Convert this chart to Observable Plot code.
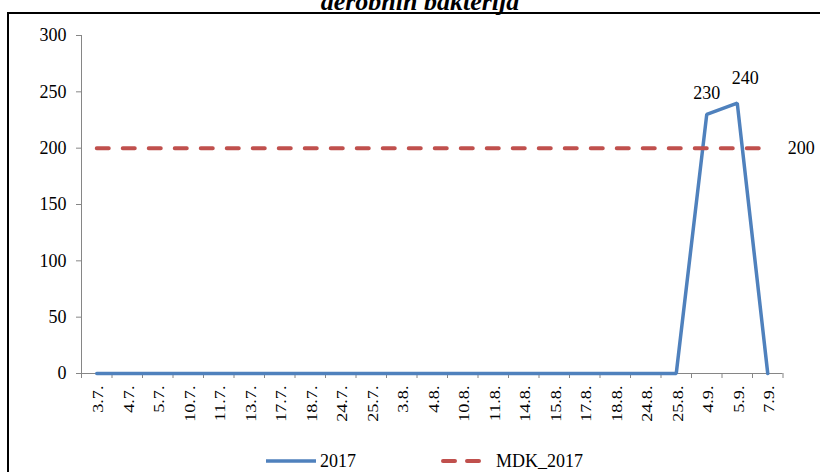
<!DOCTYPE html>
<html>
<head>
<meta charset="utf-8">
<script src="https://cdn.jsdelivr.net/npm/d3@7"></script>
<script src="https://cdn.jsdelivr.net/npm/@observablehq/plot@0.6"></script>
<style>
  html, body { margin: 0; padding: 0; background: #fff; overflow: hidden; }
  #wrap { position: relative; width: 820px; height: 472px; overflow: hidden; font-family: "Liberation Serif", serif; }
  #title { position: absolute; left: 0; width: 840px; top: -13px; line-height: 24px; text-align: center;
           font: bold italic 26px "Liberation Serif", serif; color: #000; white-space: nowrap; }
  #frame { position: absolute; left: 7px; top: 12px; width: 840px; height: 500px; border: 2px solid #000; pointer-events: none; }
  #chart { position: absolute; left: 0; top: 0; }
  .leg { position: absolute; top: 450px; height: 22px; display: flex; align-items: center; font: 18px "Liberation Serif", serif; color: #000; }
</style>
</head>
<body>
<div id="wrap">
  <div id="chart"></div>
  <div id="title">aerobnih bakterija</div>
  <div class="leg" style="left:265px">
    <svg width="52" height="22"><line x1="1" y1="11" x2="51" y2="11" stroke="#4F81BD" stroke-width="3.5"/></svg>
    <span style="margin-left:3px">2017</span>
  </div>
  <div class="leg" style="left:441px">
    <svg width="42" height="22"><line x1="2" y1="11" x2="40" y2="11" stroke="#C0504D" stroke-width="4" stroke-dasharray="12,12" stroke-linecap="round"/></svg>
    <span style="margin-left:13px">MDK_2017</span>
  </div>
  <div id="frame"></div>
</div>
<script>
const categories = ["3.7.","4.7.","5.7.","10.7.","11.7.","13.7.","17.7.","18.7.","24.7.","25.7.",
  "3.8.","4.8.","10.8.","11.8.","14.8.","15.8.","17.8.","18.8.","24.8.","25.8.","4.9.","5.9.","7.9."];
const values2017 = [0,0,0,0,0,0,0,0,0,0,0,0,0,0,0,0,0,0,0,0,230,240,0];
const mdk2017 = [200,200,200,200,200,200,200,200,200,200,200,200,200,200,200,200,200,200,200,200,200,200,200];
const yTicks = [0,50,100,150,200,250,300];

const boundaries = categories.map((c, i) => i - 0.5).concat([categories.length - 0.5]);
const rows = categories.map((c, i) => ({i, cat: c, v: values2017[i], mdk: mdk2017[i]}));
const axisGray = "#868686";

const chart = Plot.plot({
  width: 820, height: 472,
  marginLeft: 81, marginRight: 37.5, marginTop: 35, marginBottom: 99,
  x: {type: "linear", domain: [-0.5, categories.length - 0.5]},
  y: {domain: [0, 300]},
  style: {background: "transparent", fontFamily: "Liberation Serif, serif", color: "#000"},
  marks: [
    Plot.ruleY([0], {x1: -0.5, x2: categories.length - 0.5, stroke: axisGray}),
    Plot.ruleX([-0.5], {y1: 0, y2: 300, stroke: axisGray}),
    Plot.axisY({ticks: yTicks, tickSize: 5, tickPadding: 10, fontSize: 18, stroke: axisGray, fill: "#000", label: null}),
    Plot.axisX({ticks: boundaries, tickSize: 5, tickFormat: () => "", stroke: axisGray, label: null}),
    // category labels, rotated, hanging below the x axis
    Plot.text(rows, {x: "i", y: () => 0, text: "cat", rotate: -90, textAnchor: "end", lineAnchor: "middle",
                     dx: 2, dy: 12, fontSize: 14, fill: "#000", ariaLabel: "category label"}),
    Plot.line(rows, {x: "i", y: "v", stroke: "#4F81BD", strokeWidth: 3.5, strokeLinejoin: "miter"}),
    Plot.line(rows, {x: "i", y: "mdk", stroke: "#C0504D", strokeWidth: 4, strokeDasharray: "12,14", strokeLinecap: "round"}),
    Plot.text(rows.filter(d => d.i === 20), {x: "i", y: "v", text: d => String(d.v), dy: -21, fontSize: 18, fill: "#000"}),
    Plot.text(rows.filter(d => d.i === 21), {x: "i", y: "v", text: d => String(d.v), dx: 8, dy: -25, fontSize: 18, fill: "#000"}),
    Plot.text(rows.filter(d => d.i === categories.length - 1), {x: "i", y: "mdk", text: d => String(d.mdk), dx: 20, textAnchor: "start", fontSize: 18, fill: "#000"})
  ]
});
// widen the rotated date labels along their reading direction, as in the reference
chart.querySelectorAll("text").forEach(t => {
  if (categories.includes(t.textContent)) {
    const tr = t.getAttribute("transform") || "";
    t.setAttribute("transform", tr + " scale(1.3,1)");
  }
});
document.getElementById("chart").appendChild(chart);
</script>
</body>
</html>
